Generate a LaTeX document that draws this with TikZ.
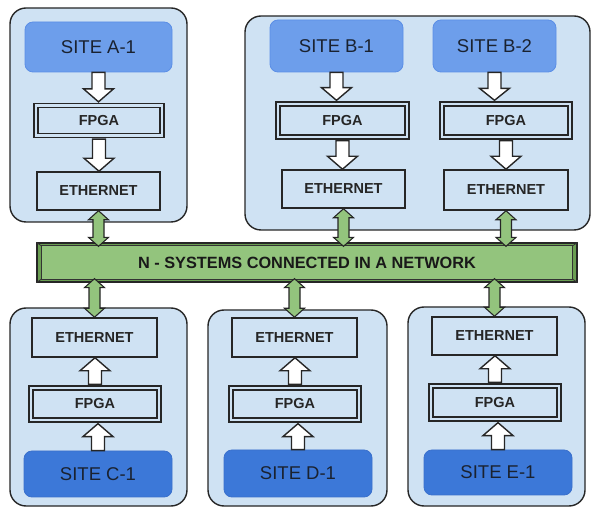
\documentclass[tikz,border=0pt]{standalone}
\usepackage{fontspec}
\setmainfont{Liberation Sans}
\usetikzlibrary{calc}

\definecolor{regionbg}{HTML}{CFE2F3}
\definecolor{sitelight}{HTML}{6D9EEB}
\definecolor{sitelightedge}{HTML}{5B8EE6}
\definecolor{sitedark}{HTML}{3C78D8}
\definecolor{sitedarkedge}{HTML}{3A70CC}
\definecolor{netgreen}{HTML}{93C47D}
\definecolor{netedge}{HTML}{6A9E52}
\definecolor{inktext}{HTML}{1A2230}

\tikzset{
  region/.style={draw=black!85, line width=1.4pt, fill=regionbg, rounded corners=16pt, inner sep=0pt},
  sitebox/.style={rounded corners=8pt, line width=0.8pt, inner sep=0pt, text=inktext,
    font=\fontsize{18.5}{20}\selectfont},
  siteup/.style={sitebox, fill=sitelight, draw=sitelightedge},
  sitedown/.style={sitebox, fill=sitedark, draw=sitedarkedge},
  fpgabox/.style={draw=black!85, line width=1.5pt, double=regionbg, double distance=2.8pt,
    fill=regionbg, inner sep=0pt, font=\bfseries\fontsize{14.5}{16}\selectfont, text=black!85},
  ethbox/.style={draw=black!85, line width=1.5pt, fill=regionbg, inner sep=0pt,
    font=\bfseries\fontsize{14.5}{16}\selectfont, text=black!85},
  netbar/.style={draw=black!85, line width=1.3pt, fill=netedge, inner sep=0pt},
  hollow/.style={draw=black!85, line width=1.4pt, fill=white, line join=miter},
  greenlink/.style={draw=black!85, line width=1.1pt, fill=netgreen, line join=miter},
}

% hollow block arrow from #1 to #2 (vertical)
\newcommand\hollowarrow[2]{%
  \draw[hollow] let \p1=(#1), \p2=(#2), \p3=($(#2)!13pt!(#1)$) in
    (\x1-6.5pt,\y1) -- (\x1+6.5pt,\y1) -- (\x1+6.5pt,\y3) -- (\x1+15pt,\y3) -- (\x1,\y2)
    -- (\x1-15pt,\y3) -- (\x1-6.5pt,\y3) -- cycle;}

% double-headed green link between #1 and #2 (vertical)
\newcommand\greenlink[2]{%
  \draw[greenlink] let \p1=(#1), \p2=(#2), \p3=($(#1)!9pt!(#2)$), \p4=($(#2)!9pt!(#1)$) in
    (\x1,\y1) -- (\x1+10pt,\y3) -- (\x1+5.5pt,\y3) -- (\x1+5.5pt,\y4) -- (\x1+10pt,\y4)
    -- (\x1,\y2) -- (\x1-10pt,\y4) -- (\x1-5.5pt,\y4) -- (\x1-5.5pt,\y3) -- (\x1-10pt,\y3) -- cycle;}

\begin{document}
\begin{tikzpicture}[x=1pt, y=-1pt]
\useasboundingbox (0,0) rectangle (592,510);

% ---------- regions ----------
\node[region, minimum width=177pt, minimum height=214pt] (regA) at (98.5,115) {};
\node[region, minimum width=345pt, minimum height=214pt] (regB) at (417.5,123) {};
\node[region, minimum width=177pt, minimum height=198pt] (regC) at (98.5,407) {};
\node[region, minimum width=179pt, minimum height=196pt] (regD) at (297.5,408) {};
\node[region, minimum width=177pt, minimum height=199pt] (regE) at (496.5,406.5) {};

% ---------- sites ----------
\node[siteup, minimum width=147pt, minimum height=50pt] (siteA) at (98.5,47) {SITE A-1};
\node[siteup, minimum width=133pt, minimum height=52pt] (siteB1) at (336.5,46) {SITE B-1};
\node[siteup, minimum width=123pt, minimum height=52pt] (siteB2) at (494.5,46) {SITE B-2};
\node[sitedown, minimum width=148pt, minimum height=46pt] (siteC) at (98,474) {SITE C-1};
\node[sitedown, minimum width=148pt, minimum height=47pt] (siteD) at (298,473.5) {SITE D-1};
\node[sitedown, minimum width=148pt, minimum height=45pt] (siteE) at (498,472.5) {SITE E-1};

% ---------- FPGA ----------
\node[fpgabox, minimum width=126pt, minimum height=30pt] (fpgaA) at (99,120.5) {FPGA};
\node[fpgabox, minimum width=129pt, minimum height=33pt] (fpgaB1) at (342.5,120.5) {FPGA};
\node[fpgabox, minimum width=128pt, minimum height=33pt] (fpgaB2) at (506,120.5) {FPGA};
\node[fpgabox, minimum width=128pt, minimum height=32pt] (fpgaC) at (95,404) {FPGA};
\node[fpgabox, minimum width=128pt, minimum height=32pt] (fpgaD) at (295,404) {FPGA};
\node[fpgabox, minimum width=128pt, minimum height=33pt] (fpgaE) at (495,402.5) {FPGA};

% ---------- Ethernet ----------
\node[ethbox, minimum width=123pt, minimum height=38pt] (ethA) at (98.5,191) {ETHERNET};
\node[ethbox, minimum width=123pt, minimum height=38pt] (ethB1) at (343.5,189) {ETHERNET};
\node[ethbox, minimum width=124pt, minimum height=40pt] (ethB2) at (506,190) {ETHERNET};
\node[ethbox, minimum width=125pt, minimum height=39pt] (ethC) at (94.5,337.5) {ETHERNET};
\node[ethbox, minimum width=125pt, minimum height=39pt] (ethD) at (294.5,337.5) {ETHERNET};
\node[ethbox, minimum width=125pt, minimum height=38pt] (ethE) at (494.5,336) {ETHERNET};

% ---------- hollow arrows: site -> FPGA -> Ethernet ----------
\hollowarrow{siteA.south}{[yshift=2.9pt]fpgaA.north}
\hollowarrow{[yshift=-2.9pt]fpgaA.south}{ethA.north}
\hollowarrow{siteB1.south}{[yshift=2.9pt]fpgaB1.north}
\hollowarrow{[yshift=-2.9pt]fpgaB1.south}{ethB1.north}
\hollowarrow{siteB2.south}{[yshift=2.9pt]fpgaB2.north}
\hollowarrow{[yshift=-2.9pt]fpgaB2.south}{ethB2.north}
\hollowarrow{siteC.north}{[yshift=-2.9pt]fpgaC.south}
\hollowarrow{[yshift=2.9pt]fpgaC.north}{ethC.south}
\hollowarrow{siteD.north}{[yshift=-2.9pt]fpgaD.south}
\hollowarrow{[yshift=2.9pt]fpgaD.north}{ethD.south}
\hollowarrow{siteE.north}{[yshift=-2.9pt]fpgaE.south}
\hollowarrow{[yshift=2.9pt]fpgaE.north}{ethE.south}

% ---------- network bar with bevelled edge ----------
\node[netbar, minimum width=540pt, minimum height=39pt] (bar) at (307,262.5) {};
\coordinate (iNW) at ([xshift=5pt,yshift=-3.5pt]bar.north west);
\coordinate (iNE) at ([xshift=-5pt,yshift=-3.5pt]bar.north east);
\coordinate (iSW) at ([xshift=5pt,yshift=3.5pt]bar.south west);
\coordinate (iSE) at ([xshift=-5pt,yshift=3.5pt]bar.south east);
\draw[black!80, line width=0.8pt, fill=netgreen] (iNW) -- (iNE) -- (iSE) -- (iSW) -- cycle;
\draw[black!80, line width=0.8pt] (bar.north west) -- (iNW) (bar.north east) -- (iNE)
  (bar.south west) -- (iSW) (bar.south east) -- (iSE);
\node[font=\bfseries\fontsize{16.3}{18}\selectfont, text=black!90] (bartext) at (bar.center)
  {N - SYSTEMS CONNECTED IN A NETWORK};

% ---------- green links between Ethernet boxes and network ----------
\coordinate (barTop) at ([yshift=-4pt]bar.north);
\coordinate (barBot) at ([yshift=4pt]bar.south);
\greenlink{ethA.south}{barTop -| ethA.south}
\greenlink{ethB1.south}{barTop -| ethB1.south}
\greenlink{ethB2.south}{barTop -| ethB2.south}
\greenlink{barBot -| ethC.north}{ethC.north}
\greenlink{barBot -| ethD.north}{ethD.north}
\greenlink{barBot -| ethE.north}{ethE.north}
\end{tikzpicture}
\end{document}
